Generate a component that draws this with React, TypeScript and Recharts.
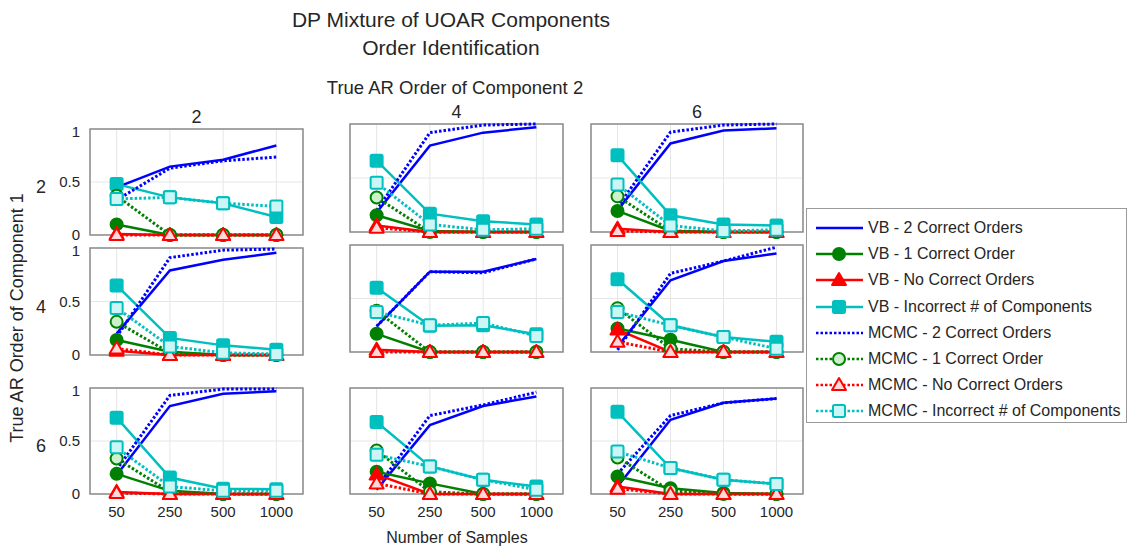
import React from 'react'
import { LineChart, Line, XAxis, YAxis, CartesianGrid, ReferenceArea } from 'recharts'

// Sample sizes on the shared x axis, AR orders on the grid rows / columns
const SAMPLES = ['50', '250', '500', '1000']
const ORDERS = ['2', '4', '6']

// One row of four values per panel, panels listed row by row
const VB_TWO = [
  [0.45, 0.645, 0.71, 0.845],
  [0.18, 0.8, 0.92, 0.97],
  [0.2, 0.82, 0.94, 0.96],
  [0.2, 0.79, 0.89, 0.955],
  [0.24, 0.75, 0.75, 0.87],
  [0.05, 0.67, 0.85, 0.92],
  [0.18, 0.83, 0.945, 0.97],
  [0.04, 0.65, 0.83, 0.92],
  [0.07, 0.7, 0.86, 0.9],
]
const VB_ONE = [
  [0.1, 0, 0, 0],
  [0.155, 0.01, 0, 0],
  [0.195, 0.01, 0, 0],
  [0.14, 0.03, 0, 0],
  [0.17, 0, 0, 0],
  [0.22, 0.115, 0, 0],
  [0.19, 0.03, 0, 0],
  [0.21, 0.1, 0, 0],
  [0.165, 0.055, 0.01, 0],
]
const VB_NONE = [
  [0.01, 0, 0, 0],
  [0.06, 0, 0, 0],
  [0.03, 0, 0, 0],
  [0.04, 0, 0, 0],
  [0.02, 0, 0, 0],
  [0.21, 0, 0, 0],
  [0.02, 0, 0, 0],
  [0.185, 0, 0, 0],
  [0.07, 0, 0, 0],
]
const VB_WRONG_K = [
  [0.48, 0.355, 0.3, 0.17],
  [0.66, 0.17, 0.1, 0.07],
  [0.71, 0.155, 0.07, 0.06],
  [0.65, 0.16, 0.09, 0.05],
  [0.6, 0.245, 0.25, 0.165],
  [0.68, 0.25, 0.14, 0.095],
  [0.72, 0.155, 0.05, 0.045],
  [0.68, 0.26, 0.135, 0.07],
  [0.775, 0.245, 0.135, 0.095],
]
const MCMC_TWO = [
  [0.33, 0.63, 0.7, 0.735],
  [0.2, 0.92, 0.99, 1.0],
  [0.23, 0.925, 0.99, 1.0],
  [0.17, 0.91, 0.98, 0.99],
  [0.24, 0.75, 0.74, 0.87],
  [0.02, 0.735, 0.85, 0.98],
  [0.23, 0.93, 0.99, 0.99],
  [0.06, 0.74, 0.84, 0.96],
  [0.19, 0.74, 0.86, 0.9],
]
const MCMC_ONE = [
  [0.37, 0, 0, 0],
  [0.32, 0, 0, 0],
  [0.33, 0.01, 0, 0],
  [0.31, 0.02, 0, 0],
  [0.385, 0, 0, 0],
  [0.41, 0.03, 0, 0],
  [0.335, 0.02, 0, 0],
  [0.41, 0.02, 0, 0],
  [0.345, 0.03, 0, 0],
]
const MCMC_NONE = [
  [0, 0, 0, 0],
  [0.04, 0, 0, 0],
  [0.01, 0, 0, 0],
  [0.06, 0, 0, 0],
  [0, 0, 0, 0],
  [0.095, 0, 0, 0],
  [0.01, 0, 0, 0],
  [0.1, 0, 0, 0],
  [0.05, 0, 0, 0],
]
const MCMC_WRONG_K = [
  [0.34, 0.355, 0.3, 0.27],
  [0.455, 0.07, 0.02, 0.03],
  [0.44, 0.06, 0.01, 0.02],
  [0.44, 0.08, 0.02, 0.01],
  [0.375, 0.25, 0.27, 0.15],
  [0.375, 0.25, 0.14, 0.03],
  [0.44, 0.07, 0.03, 0.03],
  [0.37, 0.26, 0.135, 0.04],
  [0.4, 0.245, 0.135, 0.095],
]

const BLUE = '#0000ff'
const GREEN = '#008000'
const RED = '#ff0000'
const CYAN = '#00bfbf'
const TEXT = '#262626'
const FONT = '"Liberation Sans", Arial, sans-serif'
const DOTTED = '2.5 2'

type Shape = 'none' | 'circle' | 'triangle' | 'square'

interface SeriesDef {
  key: string
  name: string
  values: number[][]
  color: string
  dashed: boolean
  shape: Shape
  fill: string
}

const SERIES: SeriesDef[] = [
  { key: 'vb2', name: 'VB - 2 Correct Orders', values: VB_TWO, color: BLUE, dashed: false, shape: 'none', fill: BLUE },
  { key: 'vb1', name: 'VB - 1 Correct Order', values: VB_ONE, color: GREEN, dashed: false, shape: 'circle', fill: GREEN },
  { key: 'vb0', name: 'VB - No Correct Orders', values: VB_NONE, color: RED, dashed: false, shape: 'triangle', fill: RED },
  { key: 'vbk', name: 'VB - Incorrect # of Components', values: VB_WRONG_K, color: CYAN, dashed: false, shape: 'square', fill: CYAN },
  { key: 'mc2', name: 'MCMC - 2 Correct Orders', values: MCMC_TWO, color: BLUE, dashed: true, shape: 'none', fill: BLUE },
  { key: 'mc1', name: 'MCMC - 1 Correct Order', values: MCMC_ONE, color: GREEN, dashed: true, shape: 'circle', fill: '#ccf2cc' },
  { key: 'mc0', name: 'MCMC - No Correct Orders', values: MCMC_NONE, color: RED, dashed: true, shape: 'triangle', fill: '#ffd9d9' },
  { key: 'mck', name: 'MCMC - Incorrect # of Components', values: MCMC_WRONG_K, color: CYAN, dashed: true, shape: 'square', fill: '#ccf5f5' },
]

// plot-area boxes (left, right) per column and (top, bottom) per row / column
const COL_X = [
  [90, 303],
  [350, 563],
  [591, 803],
]
const ROW_Y = [
  [[129, 235], [124, 232], [124, 232]],
  [[248, 355], [245, 352], [245, 352]],
  [[388, 494], [388, 494], [388, 494]],
]

const Y_AXIS_W = 55
const X_AXIS_H = 35
const PAD = 6

function Marker({ shape, cx, cy, color, fill }: { shape: Shape; cx: number; cy: number; color: string; fill: string }) {
  if (shape === 'circle') {
    return <circle cx={cx} cy={cy} r={6} fill={fill} stroke={color} strokeWidth={2} />
  }
  if (shape === 'triangle') {
    const pts = `${cx},${cy - 7} ${cx - 7},${cy + 5} ${cx + 7},${cy + 5}`
    return <polygon points={pts} fill={fill} stroke={color} strokeWidth={2} strokeLinejoin="round" />
  }
  if (shape === 'square') {
    return <rect x={cx - 6} y={cy - 6} width={12} height={12} rx={1.5} fill={fill} stroke={color} strokeWidth={2} />
  }
  return null
}

function makeDot(s: SeriesDef) {
  if (s.shape === 'none') return false
  return (props: any) => (
    <g key={`${s.key}-${props.index}`}>
      <Marker shape={s.shape} cx={props.cx} cy={props.cy} color={s.color} fill={s.fill} />
    </g>
  )
}

function Panel({ row, col }: { row: number; col: number }) {
  const p = row * 3 + col
  const [x0, x1] = COL_X[col]
  const [y0, y1] = ROW_Y[row][col]
  const plotW = x1 - x0
  const plotH = y1 - y0

  const data = SAMPLES.map((label, i) => {
    const rec: Record<string, number | string> = { x: i, label }
    SERIES.forEach((s) => {
      rec[s.key] = s.values[p][i]
    })
    return rec
  })

  const showY = col === 0
  const showX = row === 2

  return (
    <div style={{ position: 'absolute', left: x0 - Y_AXIS_W, top: y0 - PAD }}>
      <LineChart
        width={Y_AXIS_W + plotW + PAD}
        height={PAD + plotH + X_AXIS_H}
        data={data}
        margin={{ top: PAD, right: PAD, bottom: 0, left: 0 }}
      >
        <CartesianGrid stroke="#e6e6e6" strokeWidth={1} />
        <XAxis
          dataKey="x"
          type="number"
          domain={[-0.5, 3.5]}
          ticks={[0, 1, 2, 3]}
          tickFormatter={(v: number) => (showX ? SAMPLES[v] : '')}
          height={X_AXIS_H}
          axisLine={false}
          tickLine={false}
          tick={{ fill: TEXT, fontSize: 15, fontFamily: FONT }}
          tickMargin={6}
        />
        <YAxis
          type="number"
          domain={[0, 1]}
          ticks={[0, 0.5, 1]}
          tickFormatter={(v: number) => (showY ? String(v) : '')}
          width={Y_AXIS_W}
          axisLine={false}
          tickLine={false}
          tick={{ fill: TEXT, fontSize: 15, fontFamily: FONT }}
          tickMargin={4}
        />
        <ReferenceArea x1={-0.5} x2={3.5} y1={0} y2={1} fill="none" stroke="#8c8c8c" strokeWidth={1.5} />
        {SERIES.map((s) => (
          <Line
            key={s.key}
            type="linear"
            dataKey={s.key}
            stroke={s.color}
            strokeWidth={s.dashed ? 3 : 2.5}
            strokeDasharray={s.dashed ? DOTTED : undefined}
            dot={makeDot(s)}
            activeDot={false}
            isAnimationActive={false}
          />
        ))}
      </LineChart>
    </div>
  )
}

function LegendBox() {
  return (
    <div
      style={{
        position: 'absolute',
        left: 806,
        top: 208,
        width: 321,
        height: 215,
        border: '1px solid #9a9a9a',
        background: '#fff',
        boxSizing: 'border-box',
      }}
    >
      {SERIES.map((s, i) => (
        <div
          key={s.key}
          style={{ position: 'absolute', left: 8, top: 8 + i * 26.2, height: 22, display: 'flex', alignItems: 'center' }}
        >
          <svg width={50} height={22}>
            <line
              x1={1}
              x2={48}
              y1={11}
              y2={11}
              stroke={s.color}
              strokeWidth={2.5}
              strokeDasharray={s.dashed ? DOTTED : undefined}
            />
            <Marker shape={s.shape} cx={24} cy={11} color={s.color} fill={s.fill} />
          </svg>
          <span style={{ marginLeft: 3, fontSize: 16, color: TEXT, fontFamily: FONT, whiteSpace: 'nowrap' }}>{s.name}</span>
        </div>
      ))}
    </div>
  )
}

function Label({ x, y, size, text, rotate }: { x: number; y: number; size: number; text: string; rotate?: boolean }) {
  return (
    <div
      style={{
        position: 'absolute',
        left: x,
        top: y,
        transform: `translate(-50%, -50%)${rotate ? ' rotate(-90deg)' : ''}`,
        fontSize: size,
        color: TEXT,
        fontFamily: FONT,
        whiteSpace: 'nowrap',
        lineHeight: 1,
      }}
    >
      {text}
    </div>
  )
}

export default function App() {
  return (
    <div style={{ position: 'absolute', left: 0, top: 0, width: 1130, height: 547, background: '#fff', overflow: 'hidden' }}>
      <Label x={451} y={19} size={21} text="DP Mixture of UOAR Components" />
      <Label x={451} y={47} size={21} text="Order Identification" />
      <Label x={455} y={88} size={18.5} text="True AR Order of Component 2" />
      {ORDERS.map((o, c) => (
        <Label key={`c${o}`} x={(COL_X[c][0] + COL_X[c][1]) / 2} y={ROW_Y[0][c][0] - 12} size={18} text={o} />
      ))}
      {ORDERS.map((o, r) => (
        <Label key={`r${o}`} x={41} y={(ROW_Y[r][0][0] + ROW_Y[r][0][1]) / 2 + 5} size={18} text={o} />
      ))}
      <Label x={17} y={318} size={18} text="True AR Order of Component 1" rotate />
      <Label x={457} y={538} size={16} text="Number of Samples" />
      {[0, 1, 2].map((r) => [0, 1, 2].map((c) => <Panel key={`${r}-${c}`} row={r} col={c} />))}
      <LegendBox />
    </div>
  )
}
